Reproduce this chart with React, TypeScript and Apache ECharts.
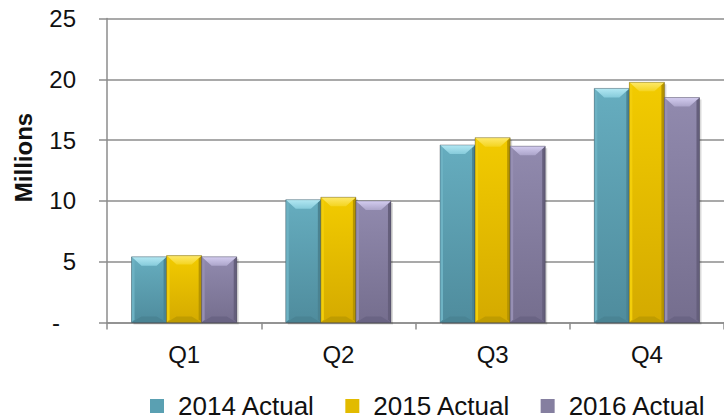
import React, { useEffect, useRef } from "react";
import * as echarts from "echarts";

const categories = ["Q1", "Q2", "Q3", "Q4"];
const seriesNames = ["2014 Actual", "2015 Actual", "2016 Actual"];
const values2014 = [5.4, 10.1, 14.6, 19.25];
const values2015 = [5.5, 10.3, 15.2, 19.75];
const values2016 = [5.4, 10.0, 14.5, 18.5];
const yTicks = [0, 5, 10, 15, 20, 25];

const palettes = [
  { face: ["#66adbf", "#4f8c9d"], top: ["#b3e8f3", "#86cbdb"], left: "#6db2c3", right: "#4a8392", bottom: "#4a8494", legend: "#5aa0b2" },
  { face: ["#f2cb00", "#d4aa00"], top: ["#fee96a", "#f4d420"], left: "#f3ce0a", right: "#b59400", bottom: "#bf9c00", legend: "#e2bb00" },
  { face: ["#918aae", "#756e8e"], top: ["#d4cdf0", "#aca5ca"], left: "#968fb3", right: "#655f7c", bottom: "#6a6484", legend: "#857fa0" },
];

const FONT = "'Liberation Sans', Arial, sans-serif";

function makeRender(si: number) {
  return (params: any, api: any) => {
    const ci = api.value(0);
    const v = api.value(1);
    const base = api.coord([ci, 0]);
    const topPt = api.coord([ci, v]);
    const band = api.size([1, 0])[0];
    const bw = (band * 0.682) / 3;
    const L = base[0] - 1.5 * bw + si * bw;
    const R = L + bw;
    const T = topPt[1];
    const B = base[1];
    const h = B - T;
    const bt = Math.min(9, h / 3);
    const bs = 3;
    const bb0 = Math.min(6, h / 3);
    const l = L + bs, r = R - bs, t = T + bt, bb = B - bb0;
    const dx = 10;
    const p = palettes[si];
    const grad = (c: string[]) => new echarts.graphic.LinearGradient(0, 0, 0, 1, [
      { offset: 0, color: c[0] },
      { offset: 1, color: c[1] },
    ]);
    return {
      type: "group",
      children: [
        { type: "rect", shape: { x: L + 2, y: T + 2, width: bw, height: h }, style: { fill: "rgba(0,0,0,0.15)" } },
        { type: "rect", shape: { x: L, y: T, width: bw, height: h }, style: { fill: grad(p.face) } },
        { type: "polygon", shape: { points: [[L, T], [l, T + bs], [l, B - bs], [L, B]] }, style: { fill: p.left } },
        { type: "polygon", shape: { points: [[R, T], [R, B], [r, B - bs], [r, T + bs]] }, style: { fill: p.right } },
        { type: "polygon", shape: { points: [[L, B], [L + dx, bb], [R - dx, bb], [R, B]] }, style: { fill: p.bottom } },
        { type: "polygon", shape: { points: [[L, T], [R, T], [R - dx, t], [L + dx, t]] }, style: { fill: grad(p.top) } },
        { type: "rect", shape: { x: L, y: T, width: bw, height: h }, style: { fill: "none", stroke: "rgba(40,40,50,0.4)", lineWidth: 0.8 } },
      ],
    };
  };
}

export default function App() {
  const ref = useRef<HTMLDivElement>(null);
  useEffect(() => {
    document.body.style.margin = "0";
    const chart = echarts.init(ref.current!, null, { renderer: "svg" });
    const all = [values2014, values2015, values2016];
    chart.setOption({
      animation: false,
      backgroundColor: "#ffffff",
      grid: { left: 107, right: -5, top: 18.5, bottom: 97.5, containLabel: false },
      xAxis: {
        type: "category",
        data: categories,
        axisLine: { show: true, lineStyle: { color: "#8c8c8c", width: 1.5 } },
        axisTick: { show: true, length: 7, lineStyle: { color: "#8c8c8c", width: 1.5 } },
        axisLabel: { color: "#111", fontSize: 24, fontFamily: FONT, margin: 20 },
        splitLine: { show: false },
      },
      yAxis: {
        type: "value",
        min: yTicks[0],
        max: yTicks[yTicks.length - 1],
        interval: 5,
        axisLine: { show: true, lineStyle: { color: "#8c8c8c", width: 1.5 } },
        axisTick: { show: true, length: 8, lineStyle: { color: "#8c8c8c", width: 1.5 } },
        splitLine: { show: true, lineStyle: { color: "#8c8c8c", width: 1.5 } },
        axisLabel: {
          color: "#111",
          fontSize: 24,
          fontFamily: FONT,
          margin: 31,
          formatter: (v: number) => (v === 0 ? "{d|-}" : String(v)),
          rich: { d: { fontSize: 24, fontFamily: FONT, color: "#111", padding: [0, 16, 0, 0] } },
        },
      },
      legend: {
        data: seriesNames,
        left: 145,
        top: 388,
        icon: "rect",
        itemWidth: 14,
        itemHeight: 14,
        itemGap: 30,
        textStyle: { fontSize: 26, fontFamily: FONT, color: "#111", padding: [0, 0, 0, 9] },
      },
      graphic: [
        {
          type: "text",
          x: 23,
          y: 157.5,
          rotation: Math.PI / 2,
          style: {
            text: "Millions",
            font: `bold 24px ${FONT}`,
            fill: "#111",
            textAlign: "center",
            textVerticalAlign: "middle",
          },
        },
      ],
      series: all.map((vals, si) => ({
        type: "custom",
        name: seriesNames[si],
        itemStyle: { color: palettes[si].legend },
        renderItem: makeRender(si),
        encode: { x: 0, y: 1 },
        data: vals.map((v, i) => [i, v]),
        z: 3,
      })),
    });
    return () => chart.dispose();
  }, []);
  return <div ref={ref} style={{ position: "fixed", left: 0, top: 0, width: 724, height: 420 }} />;
}
